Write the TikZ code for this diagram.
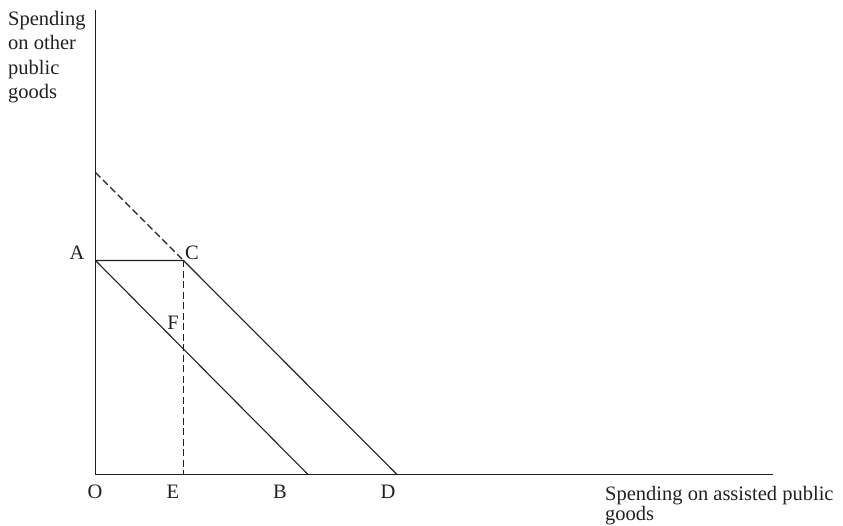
\documentclass[tikz,border=0pt]{standalone}
\usepackage{fontspec}
\setmainfont{Liberation Serif}
\usepackage{xcolor}
\usepackage{tikz}
\usetikzlibrary{positioning,calc}
\definecolor{ink}{HTML}{231F20}
\tikzset{
  axis/.style={draw=ink, line width=1.1pt},
  budget/.style={draw=ink, line width=1.1pt},
  guide/.style={draw=ink, line width=1.1pt, dash pattern=on 7pt off 3.5pt},
  ptl/.style={font=\fontsize{20.5}{24.3}\selectfont, text=ink, inner sep=0pt},
  axl/.style={ptl, align=left, anchor=north west},
}

\begin{document}
\begin{tikzpicture}[x=1pt, y=1pt]
\useasboundingbox (0,0) rectangle (843,526);

% ---- points ----
\coordinate (O)  at (95.5,51.5);
\coordinate (yt) at (95.5,516);
\coordinate (xr) at (773,51.5);
\coordinate (A)  at (95.5,265.5);
\coordinate (C)  at (183.5,265.5);
\coordinate (B)  at (308,51.5);
\coordinate (D)  at (397,51.5);
\coordinate (E)  at (183.5,51.5);
\coordinate (G)  at (95.5,353.5);

% ---- axes ----
\draw[axis] (yt) -- (O) -- (xr);

% ---- budget lines ----
\draw[budget] (A) -- (B);
\draw[budget] (A) -- (C) -- (D);
\draw[guide] (G) -- (C);
\draw[guide] (C) -- (E);

% ---- labels ----
\node[ptl] (lA) at (77,273) {A};
\node[ptl] (lC) at (192,273) {C};
\node[ptl] (lF) at (173,203) {F};
\node[ptl] (lO) at (95,34) {O};
\node[ptl] (lE) at (173,34) {E};
\node[ptl] (lB) at (280,34) {B};
\node[ptl] (lD) at (388,34) {D};

\node[axl] (ylab) at (8,515) {Spending\\on other\\public\\goods};
\node[axl, font=\fontsize{20.5}{20}\selectfont] (xlab) at (605,40)
  {Spending on assisted public\\goods};

\end{tikzpicture}
\end{document}
